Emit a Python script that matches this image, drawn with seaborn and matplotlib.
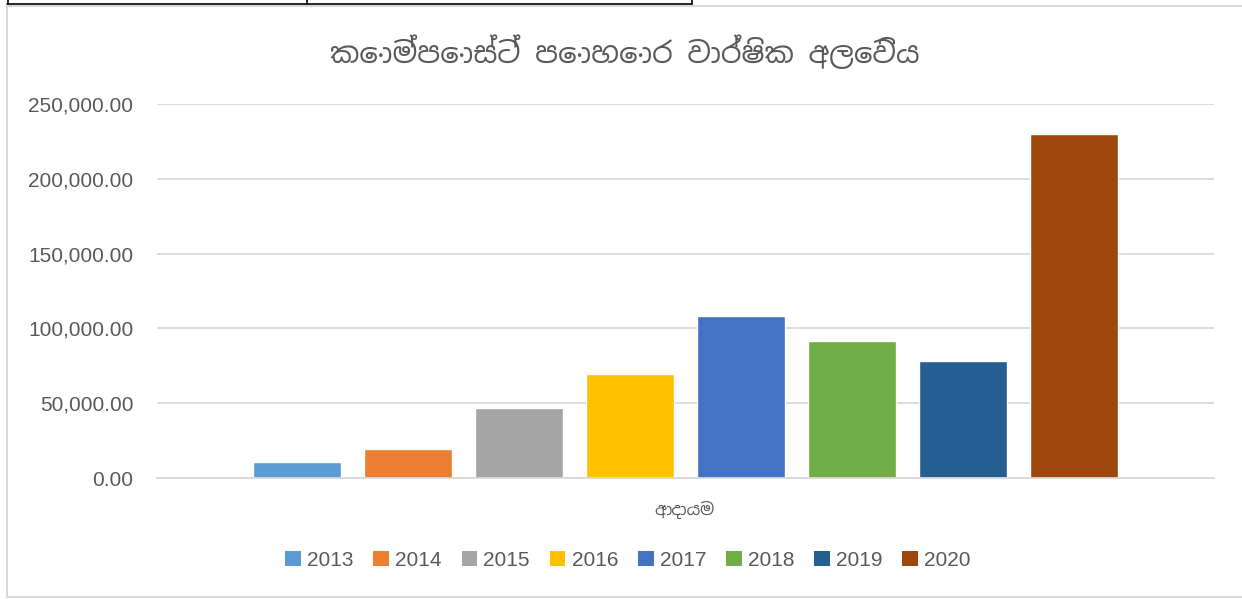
import matplotlib
matplotlib.use("Agg")
import matplotlib.pyplot as plt
from matplotlib import font_manager
from matplotlib.ft2font import FT2Font
from matplotlib.lines import Line2D
from matplotlib.patches import Patch
from matplotlib.ticker import FuncFormatter
import seaborn as sns
import pandas as pd

# ---- data ----
title_text = "කොම්පොස්ට් පොහොර වාර්ෂික අලෙවිය"
category = "ආදායම"
years = ["2013", "2014", "2015", "2016", "2017", "2018", "2019", "2020"]
values = [10500, 19400, 46800, 69500, 108300, 91600, 78200, 229900]
colors = ["#5B9BD5", "#ED7D31", "#A5A5A5", "#FFC000",
          "#4472C4", "#70AD47", "#255E91", "#9E480E"]
y_ticks = [0, 50000, 100000, 150000, 200000, 250000]

# find fonts that cover Sinhala, prefer proportional sans fonts
sinhala_fonts = []
for fe in font_manager.fontManager.ttflist:
    try:
        cm = FT2Font(fe.fname).get_charmap()
        if 0x0D9A in cm and fe.name not in sinhala_fonts:
            sinhala_fonts.append(fe.name)
    except Exception:
        pass

def rank(name):
    n = name.lower()
    r = 0
    if "sinhala" in n:
        r -= 10
    if "sans" in n:
        r -= 2
    if "mono" in n or "unifont" in n:
        r += 10
    return r

sinhala_fonts.sort(key=rank)

sns.set_theme(style="white")
base_family = ["Liberation Sans", "DejaVu Sans"]
plt.rcParams["font.family"] = base_family
sin_family = sinhala_fonts[:1] + base_family
text_color = "#595959"
grid_color = "#D9D9D9"

df = pd.DataFrame({"cat": [category] * len(years), "year": years, "value": values})

fig = plt.figure(figsize=(12.42, 5.99), dpi=100)
ax = fig.add_axes([157 / 1242, 1 - 478 / 599, (1214 - 157) / 1242, (478 - 104) / 599])

sns.barplot(data=df, x="cat", y="value", hue="year", palette=colors,
            width=0.84, gap=0.207, dodge=True, ax=ax, legend=False,
            saturation=1.0)

ax.set_xlim(-0.5, 0.5)
ax.set_ylim(0, 250000)
ax.set_yticks(y_ticks)
ax.yaxis.set_major_formatter(FuncFormatter(lambda v, p: f"{v:,.2f}"))
ax.grid(axis="y", color=grid_color, linewidth=1.3)
ax.set_axisbelow(True)
for s in ["top", "right", "left"]:
    ax.spines[s].set_visible(False)
ax.spines["bottom"].set_color(grid_color)
ax.spines["bottom"].set_linewidth(1.3)
ax.tick_params(axis="y", length=0, pad=17, labelsize=15, labelcolor=text_color)
ax.tick_params(axis="x", length=0, labelbottom=False)
ax.set_xlabel("")
ax.set_ylabel("")

fig.text(685 / 1242, 1 - 510 / 599, category, ha="center", va="center",
         fontsize=12, color=text_color, family=sin_family)
fig.text(625 / 1242, 1 - 52 / 599, title_text, ha="center", va="center",
         fontsize=21, color=text_color, family=sin_family)

handles = [Patch(facecolor=c, edgecolor="none") for c in colors]
fig.legend(handles, years, loc="center", bbox_to_anchor=(628 / 1242, 1 - 560 / 599),
           ncol=len(years), frameon=False, fontsize=15, handlelength=0.75,
           handleheight=0.75, handletextpad=0.3, columnspacing=0.95,
           labelcolor=text_color)

# chart-area border and surrounding sheet lines
W, H = 1242, 599
def fl(x0, y0, x1, y1, color, lw):
    fig.add_artist(Line2D([x0 / W, x1 / W], [1 - y0 / H, 1 - y1 / H],
                          color=color, linewidth=lw, transform=fig.transFigure))
fl(7, 5.5, 1242, 5.5, grid_color, 1.5)
fl(7, 5.5, 7, 597, grid_color, 1.5)
fl(7, 597, 1242, 597, grid_color, 1.5)
fl(7, 3.5, 692, 3.5, "black", 1.2)
fl(8, 0, 8, 4, "black", 1.2)
fl(307, 0, 307, 4, "black", 1.2)
fl(692, 0, 692, 4, "black", 1.2)

fig.savefig("out.png", dpi=100)
